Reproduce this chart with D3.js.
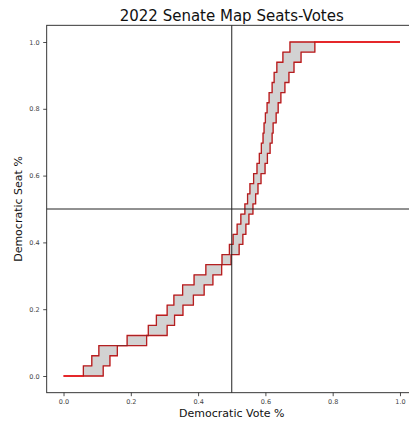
<!DOCTYPE html>
<html>
<head>
<meta charset="utf-8">
<script src="https://cdn.jsdelivr.net/npm/d3@7"></script>
<style>
  html, body { margin: 0; padding: 0; background: #fff; }
  svg { display: block; font-family: "DejaVu Sans", sans-serif; }
</style>
</head>
<body>
<svg id="chart" width="409" height="423"></svg>
<script>
// ---- data ----
const totalSeats = 33;
const seatsWon = [1,2,3,4,5,6,7,8,9,10,11,12,13,14,15,16,17,18,19,20,21,22,23,24,25,26,27,28,29,30,31,32,33];
// Democratic vote share at which each seat count is reached (upper / left step curve)
const upperVotes = [0.059,0.084,0.105,0.189,0.252,0.276,0.308,0.328,0.354,0.388,0.423,0.471,0.493,0.504,0.516,0.527,0.539,0.547,0.554,0.565,0.575,0.582,0.588,0.593,0.596,0.600,0.605,0.611,0.620,0.626,0.634,0.652,0.673];
// lower / right step curve
const lowerVotes = [0.118,0.138,0.160,0.247,0.308,0.330,0.355,0.386,0.418,0.444,0.470,0.498,0.522,0.533,0.542,0.551,0.563,0.571,0.578,0.587,0.599,0.606,0.614,0.620,0.623,0.632,0.638,0.646,0.658,0.670,0.685,0.706,0.747];
const xTicks = [0.0,0.2,0.4,0.6,0.8,1.0];
const yTicks = [0.0,0.2,0.4,0.6,0.8,1.0];
const titleText = "2022 Senate Map Seats-Votes";
const xLabel = "Democratic Vote %";
const yLabel = "Democratic Seat %";

(function () {
  const svg = d3.select("#chart");
  const mL = 46.7, mR = 416.8, mT = 25.3, mB = 392.7;
  const x = d3.scaleLinear().domain([-0.05, 1.05]).range([mL, mR]);
  const y = d3.scaleLinear().domain([-0.05, 1.05]).range([mB, mT]);

  const share = k => k / totalSeats;

  // band polygon
  const poly = [];
  seatsWon.forEach((k, i) => {
    poly.push([x(upperVotes[i]), y(share(k - 1))]);
    poly.push([x(upperVotes[i]), y(share(k))]);
  });
  for (let i = seatsWon.length - 1; i >= 0; i--) {
    const k = seatsWon[i];
    poly.push([x(lowerVotes[i]), y(share(k))]);
    poly.push([x(lowerVotes[i]), y(share(k - 1))]);
  }
  svg.append("path")
    .attr("d", d3.line().curve(d3.curveLinearClosed)(poly))
    .attr("fill", "#d2d2d2")
    .attr("stroke", "none");

  // step curves
  const stepLine = d3.line().x(d => x(d[0])).y(d => y(d[1])).curve(d3.curveStepAfter);
  const upperPts = [[0, 0]].concat(seatsWon.map((k, i) => [upperVotes[i], share(k)])).concat([[1, 1]]);
  const lowerPts = [[0, 0]].concat(seatsWon.map((k, i) => [lowerVotes[i], share(k)])).concat([[1, 1]]);

  [upperPts, lowerPts].forEach(pts => {
    svg.append("path").attr("d", stepLine(pts))
      .attr("fill", "none").attr("stroke", "#e31a1c").attr("stroke-width", 1.3);
  });
  // dark outline of band (partially over red)
  svg.append("path")
    .attr("d", d3.line().curve(d3.curveLinearClosed)(poly))
    .attr("fill", "none")
    .attr("stroke", "#333")
    .attr("stroke-width", 0.7)
    .attr("stroke-opacity", 0.45);

  // reference lines at 0.5
  svg.append("line").attr("x1", x(0.5)).attr("x2", x(0.5)).attr("y1", mT).attr("y2", mB)
    .attr("stroke", "#222").attr("stroke-width", 1);
  svg.append("line").attr("x1", mL).attr("x2", mR).attr("y1", y(0.5)).attr("y2", y(0.5))
    .attr("stroke", "#222").attr("stroke-width", 1);

  // frame
  svg.append("rect").attr("x", mL).attr("y", mT).attr("width", mR - mL).attr("height", mB - mT)
    .attr("fill", "none").attr("stroke", "#222").attr("stroke-width", 0.9);

  // axes
  const fmt = d3.format(".1f");
  const gx = svg.append("g").attr("transform", `translate(0,${mB})`)
    .call(d3.axisBottom(x).tickValues(xTicks).tickFormat(fmt).tickSize(3.5).tickPadding(3.5));
  const gy = svg.append("g").attr("transform", `translate(${mL},0)`)
    .call(d3.axisLeft(y).tickValues(yTicks).tickFormat(fmt).tickSize(3.5).tickPadding(3.5));
  [gx, gy].forEach(g => {
    g.select(".domain").remove();
    g.selectAll(".tick line").attr("stroke", "#222").attr("stroke-width", 0.8);
    g.selectAll(".tick text").attr("fill", "#444").style("font-size", "6.5px")
      .style("font-family", "DejaVu Sans, sans-serif");
  });

  // labels
  svg.append("text").attr("x", (mL + mR) / 2).attr("y", 21)
    .attr("text-anchor", "middle").style("font-size", "15px").attr("fill", "#111").text(titleText);
  svg.append("text").attr("x", (mL + mR) / 2).attr("y", 417)
    .attr("text-anchor", "middle").style("font-size", "11px").attr("fill", "#111").text(xLabel);
  svg.append("text").attr("transform", `translate(22,${(mT + mB) / 2}) rotate(-90)`)
    .attr("text-anchor", "middle").style("font-size", "11px").attr("fill", "#111").text(yLabel);
})();
</script>
</body>
</html>
